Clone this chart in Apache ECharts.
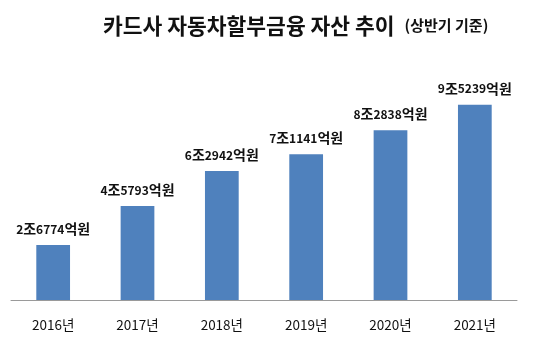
<!DOCTYPE html>
<html>
<head>
<meta charset="utf-8">
<script src="https://cdn.jsdelivr.net/npm/echarts@6/dist/echarts.min.js"></script>
<style>
html,body{margin:0;padding:0;background:#fff;}
#chart{width:540px;height:349px;}
</style>
</head>
<body>
<div id="chart"></div>
<script>
// Card-issuer auto installment financing assets (first half, unit: 억원)
const years = ['2016년', '2017년', '2018년', '2019년', '2020년', '2021년'];
const assets = [26774, 45793, 62942, 71141, 82838, 95239];

const FONT = '"Noto Sans CJK KR", "Noto Sans", sans-serif';

function valueLabel(v) {
  const jo = Math.floor(v / 10000);
  const eok = v % 10000;
  return '{n|' + jo + '}{k|조}{n|' + eok + '}{k|억원}';
}

const chart = echarts.init(document.getElementById('chart'));
chart.setOption({
  backgroundColor: '#fff',
  animation: false,
  title: {
    text: '{a|카드사 자동차할부금융 자산 추이}  {b|(상반기 기준)}',
    left: 98,
    top: 10,
    textStyle: {
      rich: {
        a: { fontFamily: FONT, fontSize: 21.5, fontWeight: 'bold', color: '#111' },
        b: { fontFamily: FONT, fontSize: 15, fontWeight: 'bold', color: '#111' }
      }
    }
  },
  grid: { left: 11, right: 23, top: 54, bottom: 49 },
  xAxis: {
    type: 'category',
    data: years,
    axisLine: { lineStyle: { color: '#9a9a9a', width: 1 } },
    axisTick: { show: false },
    axisLabel: { fontFamily: FONT, fontSize: 13.5, color: '#111', margin: 18 }
  },
  yAxis: {
    type: 'value',
    min: 0,
    max: 120000,
    show: false,
    splitLine: { show: false }
  },
  series: [{
    type: 'bar',
    data: assets,
    barWidth: '40%',
    itemStyle: { color: '#4F81BD' },
    label: {
      show: true,
      position: 'top',
      distance: 9,
      formatter: p => valueLabel(p.value),
      rich: {
        n: { fontFamily: FONT, fontSize: 12, fontWeight: 'bold', color: '#111' },
        k: { fontFamily: FONT, fontSize: 14, fontWeight: 'bold', color: '#111' }
      }
    }
  }]
});
</script>
</body>
</html>
